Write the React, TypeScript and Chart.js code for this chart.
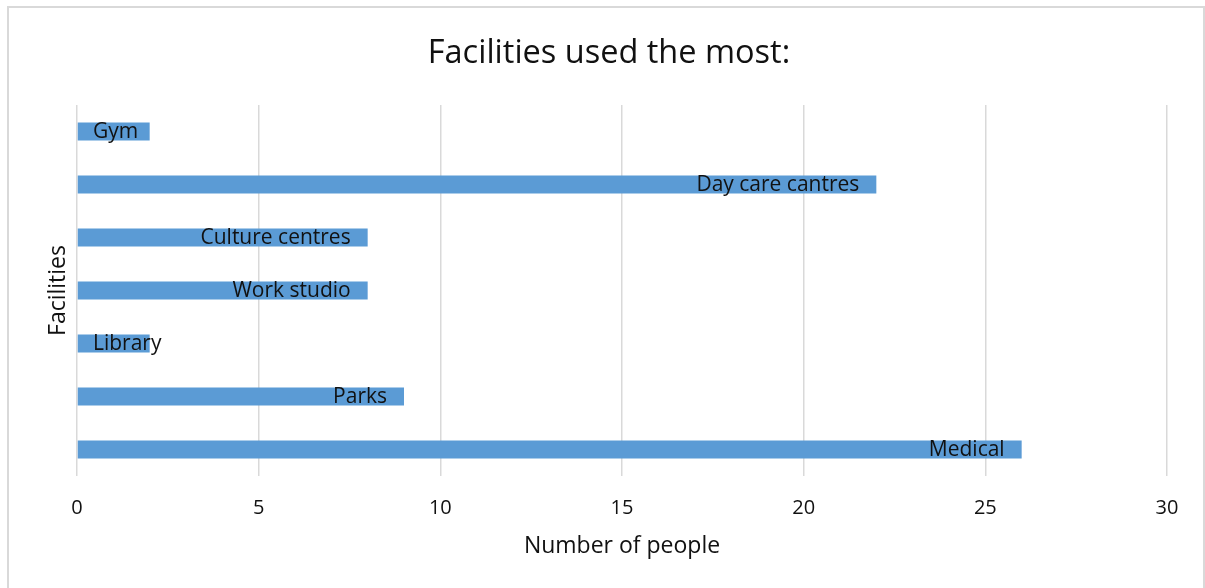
import React, { useEffect, useRef } from "react";
import { Chart, registerables } from "chart.js";

Chart.register(...registerables);

const chartTitle = "Facilities used the most:";
const facilities = ["Gym", "Day care cantres", "Culture centres", "Work studio", "Library", "Parks", "Medical"];
const people = [2, 22, 8, 8, 2, 9, 26];
const xTicks = [0, 5, 10, 15, 20, 25, 30];

const FONT = "'Open Sans', 'Noto Sans', sans-serif";
const TEXT = "#111111";

const insideEndLabels = {
  id: "insideEndLabels",
  afterDatasetsDraw(chart: any) {
    const { ctx, chartArea } = chart;
    const meta = chart.getDatasetMeta(0);
    ctx.save();
    ctx.font = `21px ${FONT}`;
    ctx.fillStyle = TEXT;
    ctx.textAlign = "right";
    ctx.textBaseline = "middle";
    meta.data.forEach((bar: any, i: number) => {
      const label = facilities[i];
      const w = ctx.measureText(label).width;
      const xr = Math.max(bar.x - 17, chartArea.left + 16 + w);
      ctx.fillText(label, xr, bar.y + 1);
    });
    ctx.restore();
  },
};

const centeredTitle = {
  id: "centeredTitle",
  afterDraw(chart: any) {
    const { ctx, width } = chart;
    ctx.save();
    ctx.font = `32.5px ${FONT}`;
    ctx.fillStyle = TEXT;
    ctx.textAlign = "center";
    ctx.textBaseline = "middle";
    ctx.fillText(chartTitle, width / 2 + 3, 46);
    ctx.restore();
  },
};

export default function App() {
  const ref = useRef<HTMLCanvasElement>(null);
  useEffect(() => {
    if (!ref.current) return;
    const chart = new Chart(ref.current, {
      type: "bar",
      data: {
        labels: facilities,
        datasets: [
          {
            data: people,
            backgroundColor: "#5b9bd5",
            borderWidth: 0,
            barPercentage: 0.34,
            categoryPercentage: 1,
          },
        ],
      },
      options: {
        indexAxis: "y",
        responsive: false,
        animation: false,
        events: [],
        layout: { padding: { left: 20, right: 36, top: 97, bottom: 30.5 } },
        plugins: {
          legend: { display: false },
          tooltip: { enabled: false },
          title: { display: false },
        },
        scales: {
          x: {
            min: 0,
            max: 30,
            afterBuildTicks: (scale: any) => {
              scale.ticks = xTicks.map((v) => ({ value: v }));
            },
            grid: { color: "#d9d9d9", lineWidth: 1.5, drawTicks: false },
            border: { display: false },
            ticks: {
              padding: 20.2,
              color: TEXT,
              font: { family: FONT, size: 20, lineHeight: 1.2 },
            },
            title: {
              display: true,
              text: "Number of people",
              color: TEXT,
              font: { family: FONT, size: 23, lineHeight: 1 },
              padding: { top: -5.9, bottom: 0 },
            },
          },
          y: {
            grid: { display: false, drawTicks: false },
            border: { display: false },
            ticks: { display: false },
            title: {
              display: true,
              text: "Facilities",
              color: TEXT,
              font: { family: FONT, size: 23, lineHeight: 1.2 },
              padding: { top: 15.2, bottom: 5.2 },
            },
          },
        },
      },
      plugins: [insideEndLabels, centeredTitle],
    });
    return () => chart.destroy();
  }, []);

  return (
    <div
      style={{
        position: "absolute",
        left: 7,
        top: 6,
        width: 1198,
        height: 590,
        border: "2px solid #d9d9d9",
        boxSizing: "border-box",
        background: "#fff",
      }}
    >
      <canvas ref={ref} width={1194} height={580} style={{ display: "block" }} />
    </div>
  );
}
